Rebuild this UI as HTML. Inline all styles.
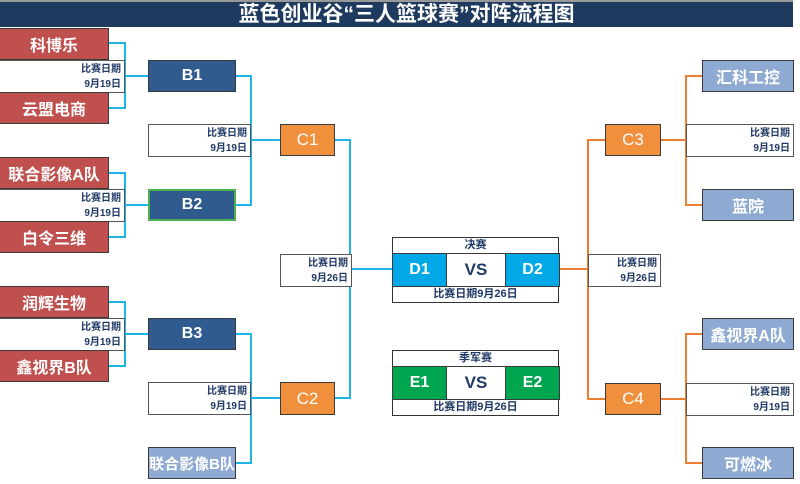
<!DOCTYPE html>
<html><head><meta charset="utf-8"><style>
body{margin:0;width:800px;height:484px;background:#fff;position:relative;overflow:hidden;font-family:"Liberation Sans","Noto Sans CJK SC",sans-serif}
.b{position:absolute;box-sizing:border-box;border:1px solid #3a3a3a;display:flex;align-items:center;justify-content:center;color:#fff;font-weight:bold;font-size:16px}
.r{background:#c0504d}
.n{background:#2f5b8f}
.l{background:#8eaad3}
.o{background:#f0903c;font-weight:normal;font-size:17px}
.d{position:absolute;box-sizing:border-box;border:1px solid #555;background:#fff;color:#1f3864;font-size:10px;font-weight:bold;text-align:right;padding-right:3px;line-height:15px;padding-top:1px}
svg{position:absolute;left:0;top:0}
.t{position:absolute;color:#1f3864;font-weight:bold;text-align:center;font-size:11px}
</style></head><body>
<div style="position:absolute;left:0;top:0;width:793px;height:27px;background:#1f3a5f;border-top:2px solid #999;box-sizing:border-box;color:#fff;font-weight:bold;font-size:21px;text-align:center;line-height:25px;padding-left:20px">蓝色创业谷“三人篮球赛”对阵流程图</div>

<svg width="800" height="484">
<g stroke="#1fb4e8" stroke-width="2" fill="none">
<polyline points="109,43 125,43 125,108 109,108"/><line x1="125" y1="76" x2="148" y2="76"/>
<polyline points="109,173 125,173 125,237 109,237"/><line x1="125" y1="205" x2="148" y2="205"/>
<polyline points="109,302 125,302 125,366 109,366"/><line x1="125" y1="334" x2="148" y2="334"/>
<polyline points="236,76 251,76 251,205 236,205"/><line x1="251" y1="140" x2="280" y2="140"/>
<polyline points="236,334 251,334 251,463 236,463"/><line x1="251" y1="398" x2="280" y2="398"/>
<polyline points="335,140 350,140 350,398 335,398"/><line x1="350" y1="269" x2="392" y2="269"/>
</g>
<g stroke="#ed7d31" stroke-width="2" fill="none">
<polyline points="702,76 686,76 686,205 702,205"/><line x1="660" y1="140" x2="686" y2="140"/>
<polyline points="702,334 686,334 686,463 702,463"/><line x1="660" y1="399" x2="686" y2="399"/>
<polyline points="605,140 588,140 588,399 605,399"/><line x1="559" y1="269" x2="588" y2="269"/>
</g>
</svg>

<div class="d" style="left:-1px;top:60px;width:126px;height:33px">比赛日期<br>9月19日</div>
<div class="d" style="left:-1px;top:189px;width:126px;height:33px">比赛日期<br>9月19日</div>
<div class="d" style="left:-1px;top:318px;width:126px;height:33px">比赛日期<br>9月19日</div>
<div class="b r" style="left:-1px;top:28px;width:110px;height:32px">科博乐</div>
<div class="b r" style="left:-1px;top:92px;width:110px;height:32px">云盟电商</div>
<div class="b r" style="left:-1px;top:157px;width:110px;height:32px">联合影像A队</div>
<div class="b r" style="left:-1px;top:221px;width:110px;height:32px">白令三维</div>
<div class="b r" style="left:-1px;top:286px;width:110px;height:32px">润辉生物</div>
<div class="b r" style="left:-1px;top:350px;width:110px;height:32px">鑫视界B队</div>

<div class="b n" style="left:148px;top:60px;width:88px;height:32px">B1</div>
<div class="b n" style="left:148px;top:189px;width:88px;height:32px;border:2px solid #4caf50">B2</div>
<div class="b n" style="left:148px;top:318px;width:88px;height:32px">B3</div>
<div class="b l" style="left:148px;top:447px;width:88px;height:32px;font-size:15px">联合影像B队</div>
<div class="d" style="left:148px;top:124px;width:103px;height:33px">比赛日期<br>9月19日</div>
<div class="d" style="left:148px;top:382px;width:103px;height:33px">比赛日期<br>9月19日</div>
<div class="b o" style="left:280px;top:124px;width:55px;height:32px">C1</div>
<div class="b o" style="left:280px;top:382px;width:55px;height:33px">C2</div>
<div class="d" style="left:280px;top:254px;width:72px;height:33px">比赛日期<br>9月26日</div>

<div style="position:absolute;left:392px;top:237px;width:167px;height:66px;border:1px solid #333;box-sizing:border-box">
<div class="t" style="left:0;top:0;width:165px;height:16px;line-height:15px">决赛</div>
<div class="b" style="left:-1px;top:15px;width:55px;height:34px;background:#00a8e8">D1</div>
<div class="b" style="left:53px;top:15px;width:60px;height:34px;background:#fff;color:#1f3864;font-size:17px">VS</div>
<div class="b" style="left:112px;top:15px;width:55px;height:34px;background:#00a8e8">D2</div>
<div class="t" style="left:0;top:49px;width:165px;line-height:15px">比赛日期9月26日</div>
</div>
<div style="position:absolute;left:392px;top:350px;width:167px;height:66px;border:1px solid #333;box-sizing:border-box">
<div class="t" style="left:0;top:0;width:165px;height:16px;line-height:15px">季军赛</div>
<div class="b" style="left:-1px;top:15px;width:55px;height:34px;background:#00a550">E1</div>
<div class="b" style="left:53px;top:15px;width:60px;height:34px;background:#fff;color:#1f3864;font-size:17px">VS</div>
<div class="b" style="left:112px;top:15px;width:55px;height:34px;background:#00a550">E2</div>
<div class="t" style="left:0;top:49px;width:165px;line-height:15px">比赛日期9月26日</div>
</div>

<div class="d" style="left:588px;top:254px;width:73px;height:33px">比赛日期<br>9月26日</div>
<div class="b o" style="left:605px;top:124px;width:56px;height:32px">C3</div>
<div class="b o" style="left:605px;top:383px;width:56px;height:32px">C4</div>
<div class="d" style="left:686px;top:124px;width:108px;height:33px">比赛日期<br>9月19日</div>
<div class="d" style="left:686px;top:383px;width:108px;height:33px">比赛日期<br>9月19日</div>
<div class="b l" style="left:702px;top:60px;width:92px;height:32px">汇科工控</div>
<div class="b l" style="left:702px;top:189px;width:92px;height:32px">蓝院</div>
<div class="b l" style="left:702px;top:318px;width:92px;height:32px">鑫视界A队</div>
<div class="b l" style="left:702px;top:447px;width:92px;height:32px">可燃冰</div>
</body></html>
